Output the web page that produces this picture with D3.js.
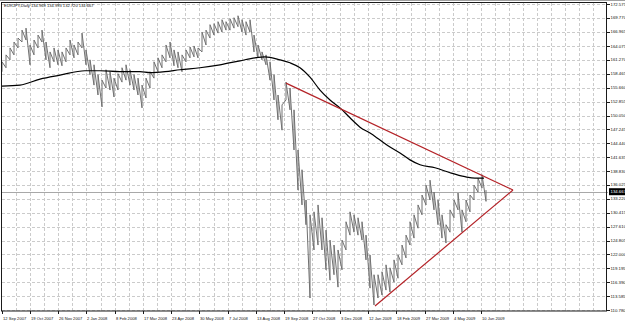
<!DOCTYPE html>
<html>
<head>
<meta charset="utf-8">
<script src="https://cdn.jsdelivr.net/npm/d3@7/dist/d3.min.js"></script>
<style>
  body { margin: 0; background: #ffffff; }
  svg { display: block; }
</style>
</head>
<body>
<div id="chart"></div>
<script>
var symbolTitle = "EURJPY,Daily  134.969 134.993 132.720 134.667";
var lastPrice = 134.667;

var priceTicks = ["172.575", "169.770", "166.965", "164.075", "161.270", "158.465", "155.660",
    "152.855", "150.050", "147.245", "144.440", "141.635", "138.830", "136.025", "133.220",
    "130.415", "127.610", "124.805", "122.000", "119.195", "116.390", "113.585", "110.780"];

var dateTicks = ["12 Sep 2007", "19 Oct 2007", "26 Nov 2007", "2 Jan 2008", "8 Feb 2008",
    "17 Mar 2008", "23 Apr 2008", "30 May 2008", "7 Jul 2008", "13 Aug 2008", "19 Sep 2008",
    "27 Oct 2008", "3 Dec 2008", "12 Jan 2009", "18 Feb 2009", "27 Mar 2009", "4 May 2009",
    "10 Jun 2009"];
// bar number where each date label sits
var dateTickBars = [0, 28, 56, 84, 113, 141, 169, 197, 226, 254, 282, 310, 338, 366, 394, 423, 451, 479];

// one sampled bar every 4 days (high / low)
var barHigh = [160.9, 162.3, 163.7, 164.9, 165.7, 167.3, 167.7, 164.3, 165.3, 166.3,
    167.3, 164.9, 162.9, 163.7, 163.3, 162.9, 163.7, 165.3, 164.3, 164.9,
    166.7, 163.3, 161.3, 160.3, 158.3, 157.2, 159.3, 158.9, 157.6, 158.5,
    159.7, 160.3, 159.3, 158.3, 157.6, 156.2, 157.6, 158.9, 160.9, 161.7,
    162.3, 164.3, 164.9, 163.3, 162.9, 162.3, 163.3, 163.9, 164.1, 163.7,
    166.9, 167.3, 168.4, 168.6, 169.0, 169.4, 169.0, 169.6, 169.8, 170.2,
    169.4, 169.0, 169.4, 166.3, 164.3, 162.9, 162.3, 160.9, 158.3, 154.2,
    152.2, 156.8, 155.6, 151.2, 143.1, 139.1, 133.0, 130.0, 130.6, 132.0,
    129.4, 126.9, 124.9, 123.9, 122.9, 124.9, 128.6, 130.6, 130.0, 129.4,
    128.6, 125.9, 121.9, 117.9, 117.9, 118.5, 119.9, 119.3, 120.9, 121.9,
    123.9, 125.9, 128.6, 130.0, 132.0, 134.0, 136.0, 137.0, 134.6, 133.0,
    130.0, 128.0, 131.0, 133.0, 134.4, 131.0, 133.0, 134.0, 136.0, 137.4,
    138.1, 134.993];
var barLow = [158.9, 159.7, 161.3, 162.3, 163.7, 164.9, 165.3, 160.3, 162.3, 163.7,
    164.9, 161.3, 159.7, 160.9, 160.3, 160.1, 160.9, 162.3, 161.7, 162.3,
    163.7, 160.3, 158.3, 156.2, 154.2, 151.8, 155.6, 155.2, 153.8, 155.2,
    156.8, 157.2, 156.2, 155.2, 154.2, 151.6, 153.6, 155.6, 157.6, 158.9,
    159.7, 160.9, 161.7, 160.1, 159.7, 158.9, 160.9, 161.7, 161.9, 161.7,
    162.9, 164.3, 165.7, 166.3, 166.7, 166.9, 167.3, 167.3, 167.7, 168.0,
    166.9, 166.3, 166.9, 162.9, 161.7, 161.3, 160.3, 157.2, 153.2, 149.2,
    147.1, 153.2, 151.2, 143.1, 135.0, 132.0, 128.0, 113.2, 122.9, 123.9,
    122.9, 118.9, 116.8, 117.9, 115.4, 118.9, 122.9, 125.9, 126.5, 125.9,
    124.9, 120.9, 115.2, 111.8, 113.2, 113.8, 114.8, 114.4, 116.4, 117.2,
    119.9, 121.3, 123.9, 125.3, 127.3, 130.0, 132.0, 133.0, 131.0, 128.0,
    125.3, 124.3, 126.5, 129.4, 131.0, 126.5, 128.6, 130.6, 133.0, 134.6,
    135.4, 132.720];

// moving average, read at these bar numbers
var maBars = [0, 18, 38, 58, 83, 98, 118, 138, 148, 163, 178, 198, 218, 238, 253, 263,
    278, 288, 298, 308, 318, 328, 338, 348, 358, 368, 378, 388, 398, 408, 418, 433,
    448, 463, 473, 482];
var maValues = [156.0, 156.2, 157.4, 158.2, 159.1, 159.1, 158.9, 158.9, 158.7, 158.9,
    159.3, 159.7, 160.3, 161.1, 161.7, 161.9, 161.3, 160.7, 159.7, 157.8,
    155.2, 153.2, 151.6, 149.6, 147.7, 146.5, 145.1, 143.7, 142.5, 141.1,
    140.1, 139.5, 138.5, 137.7, 137.4, 137.4];

var trendUpper = [[284, 156.6], [511, 135.0]];
var trendLower = [[373, 111.6], [511, 135.0]];

var width = 625,
    height = 323;

var svg = d3.select("#chart").append("svg")
    .attr("width", width)
    .attr("height", height)
    .style("background-color", "#ffffff");

var x = d3.scaleLinear().domain([0, 606]).range([2, 608]);
var y = d3.scaleLinear().domain([110.780, 172.575]).range([310, 4]);

var fontFam = "Liberation Sans, Arial, sans-serif";

// grid, horizontal at every price label
svg.append("g")
    .selectAll("line")
    .data(priceTicks)
    .enter()
    .append("line")
    .attr("x1", 2)
    .attr("x2", 607)
    .attr("y1", function(d) { return Math.round(y(+d)) + 0.5 })
    .attr("y2", function(d) { return Math.round(y(+d)) + 0.5 })
    .attr("stroke", "#cbcbcb")
    .attr("stroke-dasharray", "3,2");

// grid, vertical at every label and half way between
var gridBars = [];
dateTickBars.forEach(function(b, i) {
    gridBars.push(b);
    var next = i < dateTickBars.length - 1 ? dateTickBars[i + 1] : b + 28;
    gridBars.push((b + next) / 2);
});
var extra = dateTickBars[dateTickBars.length - 1] + 28;
while (extra < 604) {
    gridBars.push(extra);
    gridBars.push(extra + 14);
    extra += 28;
}

svg.append("g")
    .selectAll("line")
    .data(gridBars.filter(function(b) { return b > 2 && x(b) < 606 }))
    .enter()
    .append("line")
    .attr("x1", function(d) { return Math.round(x(d)) + 0.5 })
    .attr("x2", function(d) { return Math.round(x(d)) + 0.5 })
    .attr("y1", 3)
    .attr("y2", 311)
    .attr("stroke", "#cbcbcb")
    .attr("stroke-dasharray", "3,2");

// last price line
svg.append("line")
    .attr("x1", 1)
    .attr("x2", 608)
    .attr("y1", Math.round(y(lastPrice)) + 0.5)
    .attr("y2", Math.round(y(lastPrice)) + 0.5)
    .attr("stroke", "#a8a8a8")
    .attr("stroke-width", 1);

// price bars, drawn low -> high then on to the next bar
var pts = [];
barHigh.forEach(function(h, i) {
    pts.push([i * 4, barLow[i]]);
    pts.push([i * 4, h]);
});
var barLine = d3.line()
    .x(function(d) { return x(d[0]) })
    .y(function(d) { return y(d[1]) });

svg.append("path")
    .attr("d", barLine(pts))
    .attr("fill", "none")
    .attr("stroke", "#707070")
    .attr("stroke-width", 1);

// moving average
var maLine = d3.line()
    .curve(d3.curveMonotoneX)
    .x(function(d, i) { return x(maBars[i]) })
    .y(function(d) { return y(d) });

svg.append("path")
    .attr("d", maLine(maValues))
    .attr("fill", "none")
    .attr("stroke", "#000000")
    .attr("stroke-width", 1.2);

// triangle trend lines
var trends = [trendUpper, trendLower];
trends.forEach(function(t) {
    svg.append("path")
        .attr("d", barLine(t))
        .attr("fill", "none")
        .attr("stroke", "#b42328")
        .attr("stroke-width", 1.2);
});

// frame
svg.append("line").attr("x1", 0).attr("x2", width).attr("y1", 0.5).attr("y2", 0.5)
    .attr("stroke", "#a0a0a0").attr("stroke-width", 1);
svg.append("rect")
    .attr("x", 1.5)
    .attr("y", 2.5)
    .attr("width", 606.5 - 1.5)
    .attr("height", 311 - 2.5)
    .attr("fill", "none")
    .attr("stroke", "#1a1a1a")
    .attr("stroke-width", 1);

// price axis
var pAxis = svg.append("g");
pAxis.selectAll("line")
    .data(priceTicks)
    .enter()
    .append("line")
    .attr("x1", 607)
    .attr("x2", 610)
    .attr("y1", function(d) { return Math.round(y(+d)) + 0.5 })
    .attr("y2", function(d) { return Math.round(y(+d)) + 0.5 })
    .attr("stroke", "#1a1a1a");
pAxis.selectAll("text")
    .data(priceTicks)
    .enter()
    .append("text")
    .attr("x", 610.5)
    .attr("y", function(d) { return y(+d) + 1.5 })
    .attr("font-family", fontFam)
    .style("font-size", "4.3px")
    .style("fill", "#111")
    .text(function(d) { return d });

// last price tag
svg.append("rect")
    .attr("x", 609)
    .attr("y", y(lastPrice) - 3.5)
    .attr("width", 16)
    .attr("height", 7)
    .attr("fill", "#000000");
svg.append("text")
    .attr("x", 610.5)
    .attr("y", y(lastPrice) + 1.6)
    .attr("font-family", fontFam)
    .style("font-size", "4.3px")
    .style("fill", "#ffffff")
    .text(lastPrice.toFixed(3));

// date axis
var dAxis = svg.append("g");
dAxis.selectAll("line")
    .data(dateTickBars)
    .enter()
    .append("line")
    .attr("x1", function(d) { return Math.round(x(d)) + 0.5 })
    .attr("x2", function(d) { return Math.round(x(d)) + 0.5 })
    .attr("y1", 311)
    .attr("y2", 314)
    .attr("stroke", "#1a1a1a");
dAxis.selectAll("text")
    .data(dateTicks)
    .enter()
    .append("text")
    .attr("x", function(d, i) { return x(dateTickBars[i]) + 1 })
    .attr("y", 320)
    .attr("font-family", fontFam)
    .style("font-size", "4.1px")
    .style("fill", "#111")
    .text(function(d) { return d });

// header
svg.append("text")
    .attr("x", 4)
    .attr("y", 7)
    .attr("font-family", fontFam)
    .style("font-size", "4.1px")
    .style("fill", "#111")
    .text(symbolTitle);
</script>
</body>
</html>
